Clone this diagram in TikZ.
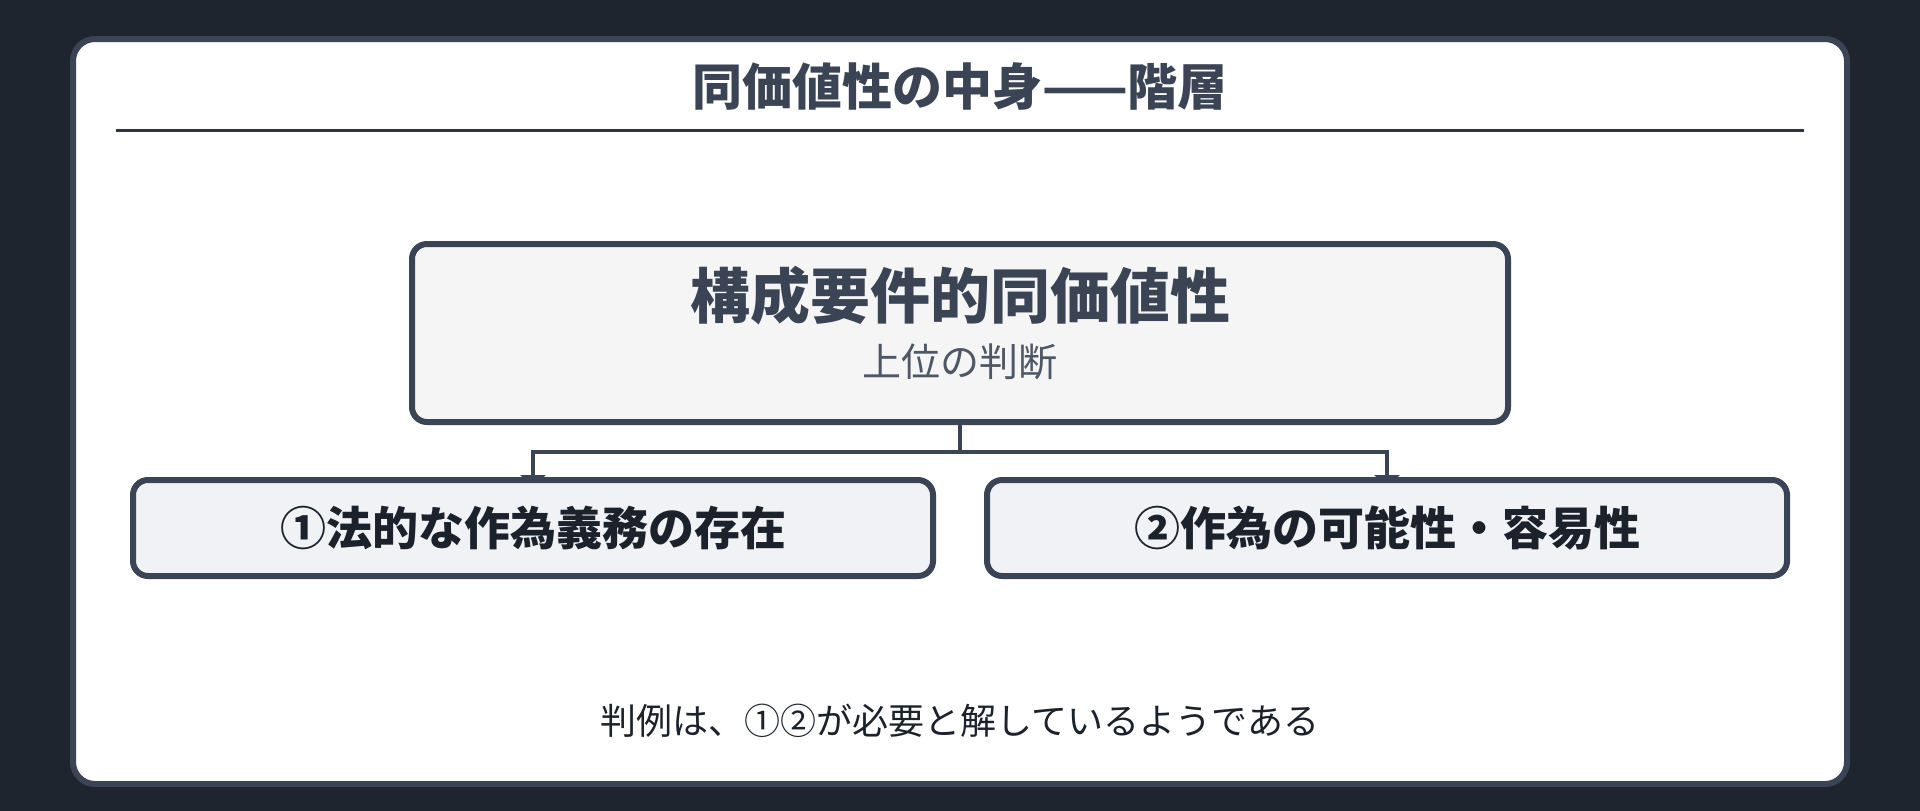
\documentclass[tikz,border=0pt]{standalone}
\usepackage{fontspec}
\setmainfont{Noto Sans CJK JP}
\usetikzlibrary{positioning}
\usetikzlibrary{arrows.meta}
\pgfdeclarelayer{backdrop}
\pgfdeclarelayer{behind}
\pgfsetlayers{backdrop,behind,main}
\tikzstyle{pixels} = [x = 1pt, y = -1pt]
\definecolor{pageColor}{RGB}{30,37,47}
\definecolor{slateColor}{RGB}{58,68,84}
\definecolor{ruleColor}{RGB}{45,52,64}
\definecolor{inkColor}{RGB}{28,34,44}
\definecolor{topFill}{RGB}{245,245,245}
\definecolor{partFill}{RGB}{240,242,245}
\tikzstyle{cardStyle} = [draw=slateColor, fill=white, line width=6pt, rounded corners=22pt, minimum width=1774pt, minimum height=745pt, inner sep=0pt]
\tikzstyle{titleText} = [text=slateColor, font=\fontsize{50pt}{60pt}\selectfont\bfseries, inner sep=0pt]
\tikzstyle{titleRule} = [draw=ruleColor, line width=3pt]
\tikzstyle{topBox} = [draw=slateColor, fill=topFill, line width=6pt, rounded corners=15pt, minimum width=1096pt, minimum height=178pt, inner sep=0pt]
\tikzstyle{topText} = [text=slateColor, font=\fontsize{60pt}{72pt}\selectfont\bfseries, inner sep=0pt]
\tikzstyle{subText} = [text=slateColor!90!white, font=\fontsize{39pt}{46pt}\selectfont, inner sep=0pt]
\tikzstyle{partBox} = [draw=slateColor, fill=partFill, line width=6pt, rounded corners=15pt, minimum width=800pt, minimum height=96pt, inner sep=0pt, text=inkColor, font=\fontsize{46pt}{55pt}\selectfont\bfseries]
\tikzstyle{branchLine} = [draw=slateColor, line width=4.5pt, -{Triangle[width=25pt 0 0, length=12pt 0 0]}]
\tikzstyle{noteText} = [text=inkColor, font=\fontsize{36pt}{43pt}\selectfont, inner sep=0pt]

\begin{document}
\begin{tikzpicture}[pixels]
  \useasboundingbox (0,0) rectangle (1920,811);
  \begin{pgfonlayer}{backdrop}
    \fill [pageColor] (0,0) rectangle (1920,811);
    \node [cardStyle] (card) at (960,411.5) {};
  \end{pgfonlayer}

  % heading
  \node [titleText] (title) at (960,86) {同価値性の中身——階層};
  \coordinate (ruleLeft) at (116,130.5);
  \coordinate (ruleRight) at (1804,130.5);
  \draw [titleRule] (ruleLeft) -- (ruleRight);

  % hierarchy
  \node [topBox] (equivalence) at (960,333) {};
  \node [topText] (equivalenceName) at (960,296) {構成要件的同価値性};
  \node [subText] (equivalenceSub) at (960,362) {上位の判断};
  \node [partBox] (duty) at (533,528) {①法的な作為義務の存在};
  \node [partBox] (possibility) at (1387,528) {②作為の可能性・容易性};

  \begin{pgfonlayer}{behind}
    \draw [branchLine] (equivalence.south) -- ++(0,27) -| ([yshift=-10pt]duty.north);
    \draw [branchLine] (equivalence.south) -- ++(0,27) -| ([yshift=-10pt]possibility.north);
  \end{pgfonlayer}

  \node [noteText] (note) at (960,721) {判例は、①②が必要と解しているようである};
\end{tikzpicture}
\end{document}
